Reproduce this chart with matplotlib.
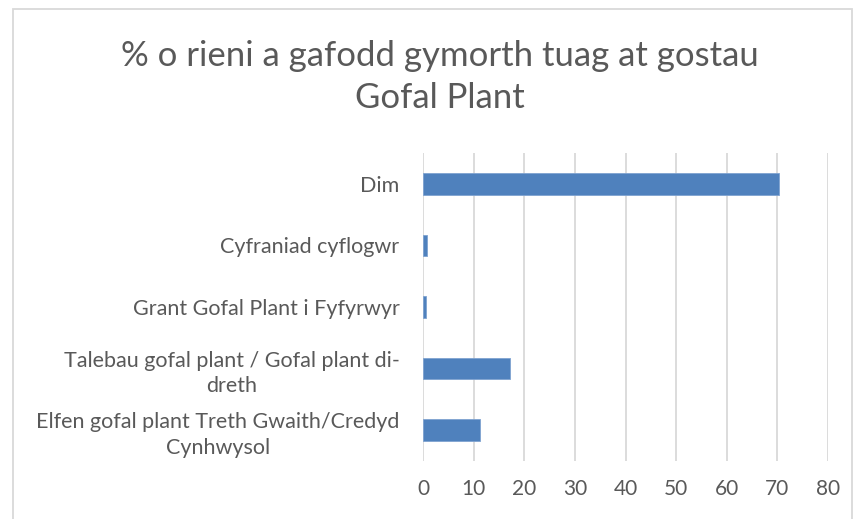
import numpy as np
import matplotlib.pyplot as plt
from matplotlib.patches import Rectangle

plt.rcParams['font.family'] = ['Lato', 'DejaVu Sans']

categories = [
    'Dim',
    'Cyfraniad cyflogwr',
    'Grant Gofal Plant i Fyfyrwyr',
    'Talebau gofal plant / Gofal plant di-\ndreth',
    'Elfen gofal plant Treth Gwaith/Credyd\nCynhwysol',
]
values = [70.4, 0.7, 0.5, 17.1, 11.2]
xticks = [0, 10, 20, 30, 40, 50, 60, 70, 80]
title = '% o rieni a gafodd gymorth tuag at gostau\nGofal Plant'

text_col = '#595959'
grid_col = '#d9d9d9'
bar_col = '#4f81bd'

fig = plt.figure(figsize=(8.56, 5.19), dpi=100)
W, H = 856, 519
ax = fig.add_axes([423 / W, 1 - 461 / H, 405 / W, 308 / H])

# chart frame
fig.patches.append(Rectangle((12.5 / W, -0.05), 839 / W, 1 - 9 / H + 0.05,
                             transform=fig.transFigure, fill=False,
                             edgecolor=grid_col, linewidth=1.3))

y = np.arange(len(categories))
ax.barh(y, values, height=0.35, color=bar_col, edgecolor='#7fa3d1',
        linewidth=0.6, zorder=3)
ax.set_ylim(len(categories) - 0.5, -0.5)
ax.set_xlim(0, 80)
ax.set_xticks(xticks)
ax.set_xticklabels([str(t) for t in xticks])
ax.set_yticks(y)
ax.set_yticklabels(categories, multialignment='center', linespacing=1.35)

ax.grid(axis='x', color=grid_col, linewidth=1.3, zorder=0)
for s in ax.spines.values():
    s.set_visible(False)
ax.tick_params(axis='both', length=0, colors=text_col, labelsize=15.5)
ax.tick_params(axis='y', pad=17)
ax.tick_params(axis='x', labelsize=15, pad=13)

fig.text(440 / W, 1 - 77 / H, title, ha='center', va='center',
         fontsize=25, color=text_col, linespacing=1.35)

fig.savefig('out.png', dpi=100)
